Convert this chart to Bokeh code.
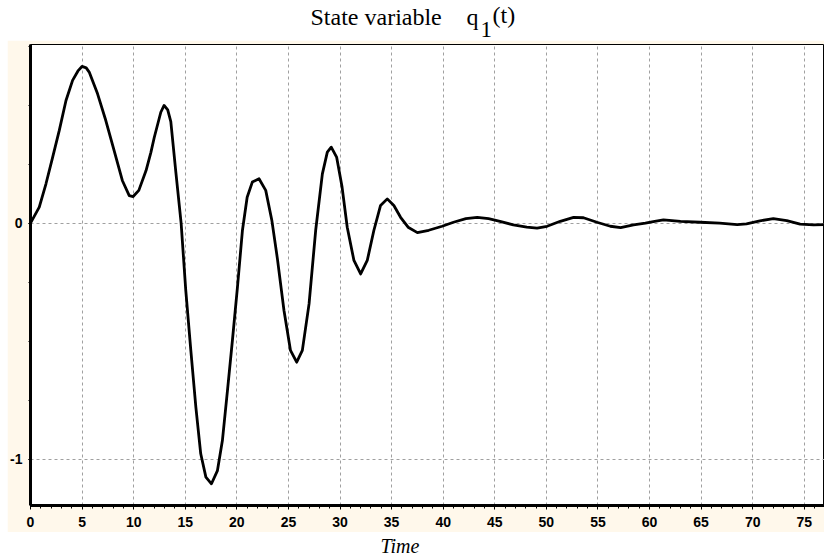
from bokeh.plotting import figure
from bokeh.models import FixedTicker, Range1d, Spacer
from bokeh.layouts import column, row
from bokeh.core.properties import value
from bokeh.embed import file_html
from bokeh.resources import INLINE

# ---- data ----
t = [0, 0.85, 1.5, 2.15, 2.79, 3.44, 4.08, 4.6, 4.99, 5.4, 5.69, 6.5, 7.3, 8.1, 8.9,
     9.57, 9.95, 10.5, 11.2, 11.67, 12.0, 12.63, 12.95, 13.3, 13.6, 14.09, 14.6, 15.05,
     15.54, 16.03, 16.5, 17.0, 17.54, 18.12, 18.6, 19.09, 19.57, 20.06, 20.54, 21.0,
     21.5, 22.15, 22.8, 23.4, 23.93, 24.57, 25.2, 25.8, 26.35, 27.0, 27.64, 28.29,
     28.77, 29.15, 29.67, 30.2, 30.7, 31.35, 32.0, 32.64, 33.28, 33.93, 34.58, 35.22,
     35.87, 36.6, 37.5, 38.6, 39.9, 41.0, 42.2, 43.3, 44.4, 45.5, 46.8, 48.1, 49.1,
     50.07, 51.35, 52.64, 53.6, 54.9, 56.2, 57.2, 58.45, 59.6, 60.5, 61.35, 63.0, 64.9,
     66.8, 68.5, 69.4, 70.7, 72.0, 73.3, 74.6, 75.9, 76.9]
q = [0, 0.068, 0.167, 0.28, 0.393, 0.52, 0.605, 0.645, 0.664, 0.658, 0.64, 0.548, 0.435,
     0.308, 0.181, 0.117, 0.113, 0.139, 0.223, 0.30, 0.364, 0.47, 0.499, 0.48, 0.43,
     0.215, 0.0, -0.285, -0.539, -0.78, -0.977, -1.076, -1.104, -1.048, -0.921, -0.709,
     -0.497, -0.271, -0.031, 0.11, 0.174, 0.188, 0.139, 0.01, -0.15, -0.37, -0.539,
     -0.589, -0.539, -0.342, -0.031, 0.209, 0.301, 0.322, 0.28, 0.153, -0.017, -0.158,
     -0.215, -0.158, -0.031, 0.075, 0.103, 0.075, 0.025, -0.017, -0.04, -0.03, -0.013,
     0.004, 0.019, 0.025, 0.019, 0.008, -0.007, -0.017, -0.021, -0.013, 0.008, 0.025,
     0.023, 0.004, -0.013, -0.019, -0.007, 0.0, 0.008, 0.014, 0.008, 0.004, 0.0, -0.006,
     -0.003, 0.01, 0.019, 0.011, -0.004, -0.007, -0.006]

x_major = [0, 5, 10, 15, 20, 25, 30, 35, 40, 45, 50, 55, 60, 65, 70, 75]
x_minor = list(range(0, 78))
y_major = [-1, 0]
y_minor = [-1.0, -0.75, -0.5, -0.25, 0.0, 0.25, 0.5, 0.75]
y_labels = {0: "0", -1: "-1"}

title_main = "State variable"
title_var = "q"
title_sub = "1"
title_arg = "(t)"
xlabel_text = "Time"

CREAM = "#FFF8EB"
GRID = "#A0A0A0"
TICKFONT = "'Liberation Sans Narrow', 'Liberation Sans', sans-serif"
SERIF = value("Liberation Serif")

W = 824


def blank(height):
    f = figure(width=W, height=height, x_range=Range1d(0, W), y_range=Range1d(height, 0),
               output_backend="svg", toolbar_location=None, min_border=0,
               border_fill_color="white", background_fill_color="white")
    f.axis.visible = False
    f.grid.visible = False
    f.outline_line_color = None
    return f


def label(f, x, y, txt, size, style="normal"):
    f.text(x=[x], y=[y], text=[txt], text_font=SERIF, text_font_size=size,
           text_font_style=style, text_baseline="alphabetic", text_align="left",
           text_color="black")


# ---- title strip ----
TOP_H = 40
top = blank(TOP_H)
label(top, 310, 16.0, title_main, "24px")
label(top, 466, 16.0, title_var, "24px")
label(top, 480, 28.5, title_sub, "23px")
label(top, 492, 14.0, title_arg, "24px")

# ---- main plot ----
PW, PH = 817, 492
p = figure(width=PW, height=PH, x_range=Range1d(0, 76.96), y_range=Range1d(-1.196, 0.757),
           output_backend="svg", toolbar_location=None,
           min_border_left=22, min_border_right=0, min_border_top=4, min_border_bottom=27,
           border_fill_color=CREAM, background_fill_color="white")
p.outline_line_color = "black"
p.outline_line_width = 1

xa = p.xaxis[0]
xa.ticker = FixedTicker(ticks=x_major, minor_ticks=x_minor)
xa.axis_line_width = 3
xa.axis_line_color = "black"
xa.major_tick_out = 4
xa.major_tick_in = 0
xa.minor_tick_out = 3
xa.minor_tick_in = 0
xa.major_tick_line_color = "black"
xa.minor_tick_line_color = "black"
xa.major_label_standoff = 7
xa.major_label_text_font = TICKFONT
xa.major_label_text_font_style = "bold"
xa.major_label_text_font_size = "14px"
xa.major_label_text_color = "black"

ya = p.yaxis[0]
ya.ticker = FixedTicker(ticks=y_major, minor_ticks=y_minor)
ya.major_label_overrides = y_labels
ya.axis_line_width = 3
ya.axis_line_color = "black"
ya.major_tick_out = 2
ya.major_tick_in = 0
ya.minor_tick_out = 2
ya.minor_tick_in = 0
ya.major_label_standoff = 6
ya.major_label_text_font = TICKFONT
ya.major_label_text_font_style = "bold"
ya.major_label_text_font_size = "14px"
ya.major_label_text_color = "black"

p.xgrid.ticker = FixedTicker(ticks=x_major)
p.ygrid.ticker = FixedTicker(ticks=y_major)
for g in (p.xgrid, p.ygrid):
    g.grid_line_color = GRID
    g.grid_line_dash = "3 3"
    g.grid_line_width = 1

p.line(t, q, line_color="black", line_width=2.8, line_join="round", line_cap="round")

# ---- x label strip ----
BOT_H = 25
bottom = blank(BOT_H)
label(bottom, 380, 13.5, xlabel_text, "20px", "italic")

layout = column(top, row(Spacer(width=7, height=PH), p), bottom)

open("out.html", "w").write(file_html(layout, INLINE))
